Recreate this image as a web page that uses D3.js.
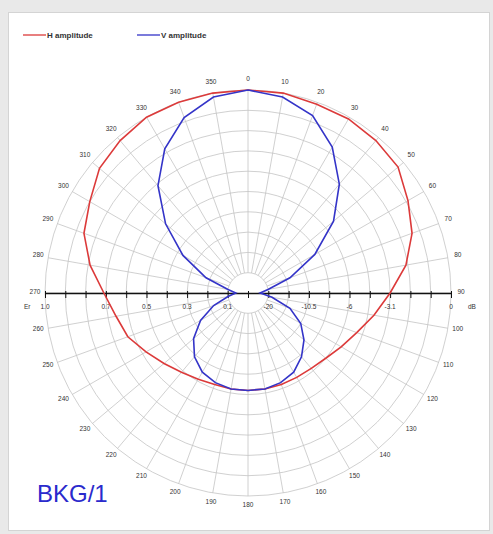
<!DOCTYPE html>
<html>
<head>
<meta charset="utf-8">
<style>
    body { margin: 0; background: #e9e9e9; font-family: 'Liberation Sans', Arial, sans-serif; }
    svg { display: block; }
    .grid { fill: none; stroke: #c4c4c4; stroke-width: 0.8; }
    .lbl { font-size: 6.5px; fill: #333; }
</style>
</head>
<body>
<svg width="493" height="534"></svg>

<script src="https://d3js.org/d3.v7.min.js"></script>
<script>
    // angles in degrees, 0 = top, clockwise
    const angles = d3.range(0, 360, 10);
    // relative amplitude (Er)
    const hAmplitude = [1.0, 1.0, 0.99, 0.99, 0.98, 0.965, 0.91, 0.86, 0.79, 0.70,
        0.63, 0.57, 0.53, 0.50, 0.485, 0.48, 0.48, 0.48, 0.48, 0.48, 0.48, 0.49,
        0.51, 0.54, 0.58, 0.63, 0.66, 0.71, 0.79, 0.86, 0.90, 0.955, 0.98, 1.0, 1.0, 1.0];
    const vAmplitude = [1.0, 0.98, 0.93, 0.83, 0.70, 0.55, 0.38, 0.22, 0.10, 0.06,
        0.12, 0.22, 0.30, 0.36, 0.41, 0.45, 0.47, 0.48, 0.48, 0.48, 0.47, 0.45,
        0.41, 0.35, 0.27, 0.18, 0.10, 0.06, 0.10, 0.22, 0.37, 0.53, 0.69, 0.82, 0.92, 0.98];
    const erTicks = [1.0, 0.7, 0.5, 0.3, 0.1];
    const dbTicks = ["-20", "-10.5", "-6", "-3.1", "0"];

    const svg = d3.select("svg");
    const cx = 248, cy = 293, R = 203;

    // panel
    svg.append("rect")
        .attr("x", 8.5).attr("y", 12.5).attr("width", 481).attr("height", 518)
        .attr("fill", "white").attr("stroke", "#d4d4d4");

    let r = d3.scaleLinear().domain([0, 1]).range([0, R]);
    let rad = d => d * Math.PI / 180;

    let g = svg.append("g").attr("transform", `translate(${cx},${cy})`);

    // grid circles
    g.selectAll(".ring")
        .data(d3.range(1, 11).map(d => d / 10))
        .join("circle")
        .attr("class", "grid")
        .attr("r", d => r(d));

    // spokes
    g.selectAll(".spoke")
        .data(angles)
        .join("line")
        .attr("class", "grid")
        .attr("x1", d => r(0.1) * Math.sin(rad(d)))
        .attr("y1", d => -r(0.1) * Math.cos(rad(d)))
        .attr("x2", d => r(1) * Math.sin(rad(d)))
        .attr("y2", d => -r(1) * Math.cos(rad(d)));

    // degree labels
    g.selectAll(".deg")
        .data(angles)
        .join("text")
        .attr("class", "lbl")
        .attr("text-anchor", "middle")
        .attr("x", d => 213 * Math.sin(rad(d)))
        .attr("y", d => -213 * Math.cos(rad(d)) + 1)
        .text(d => d);

    // horizontal axis
    let x = d3.scaleLinear().domain([-1, 1]).range([-R, R]);
    let axis = d3.axisBottom(x)
        .tickValues(d3.range(-10, 11).map(d => d / 10))
        .tickSizeInner(5).tickSizeOuter(0)
        .tickFormat("");
    let ax = g.append("g").call(axis);
    ax.select(".domain").attr("stroke", "#111").attr("stroke-width", 1.3);
    ax.selectAll(".tick line").attr("stroke", "#111").attr("stroke-width", 1).attr("y1", -2);

    g.selectAll(".er")
        .data(erTicks)
        .join("text")
        .attr("class", "lbl")
        .attr("text-anchor", "middle")
        .attr("x", d => x(-d))
        .attr("y", 16)
        .text(d => d.toFixed(1));

    g.selectAll(".db")
        .data(dbTicks)
        .join("text")
        .attr("class", "lbl")
        .attr("text-anchor", "middle")
        .attr("x", (d, i) => x(erTicks[erTicks.length - 1 - i]))
        .attr("y", 16)
        .text(d => d);

    g.append("text").attr("class", "lbl").attr("x", -R - 21).attr("y", 16).text("Er");
    g.append("text").attr("class", "lbl").attr("x", R + 17).attr("y", 16).text("dB");

    // curves
    let line = d3.lineRadial()
        .angle((d, i) => rad(angles[i]))
        .radius(d => r(d))
        .curve(d3.curveLinearClosed);

    g.append("path")
        .attr("d", line(hAmplitude))
        .attr("fill", "none")
        .attr("stroke", "#dc3a3a")
        .attr("stroke-width", 1.6);

    g.append("path")
        .attr("d", line(vAmplitude))
        .attr("fill", "none")
        .attr("stroke", "#3434c8")
        .attr("stroke-width", 1.6);

    // legend
    let legend = [
        { name: "H amplitude", color: "#dc3a3a", x: 23 },
        { name: "V amplitude", color: "#3434c8", x: 137 }
    ];
    let lg = svg.selectAll(".legend")
        .data(legend)
        .join("g")
        .attr("transform", d => `translate(${d.x},35)`);
    lg.append("line").attr("x2", 23).attr("stroke", d => d.color).attr("stroke-width", 1.3);
    lg.append("text")
        .attr("x", 24).attr("y", 3)
        .style("font-size", "8px").style("font-weight", "bold").style("fill", "#333")
        .text(d => d.name);

    svg.append("text")
        .attr("x", 37).attr("y", 502)
        .style("font-size", "24px").style("fill", "#2a2acc")
        .text("BKG/1");
</script>
</body>
</html>
